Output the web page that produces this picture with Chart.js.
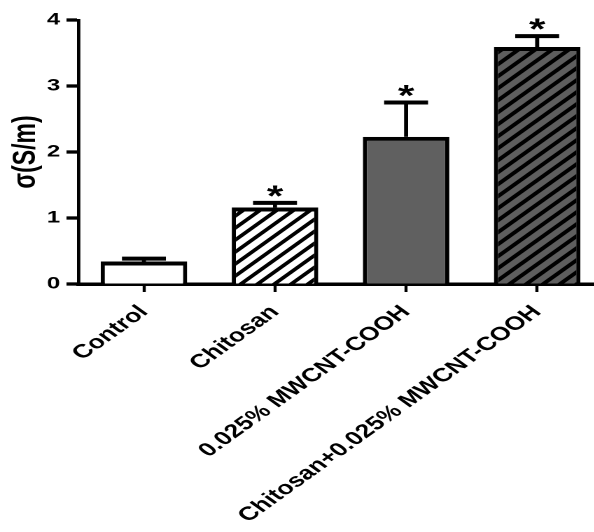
<!DOCTYPE html>
<html>
<head>
<meta charset="utf-8">
<script src="https://cdn.jsdelivr.net/npm/chart.js@4.4.1/dist/chart.umd.min.js"></script>
<style>
  html, body { margin: 0; padding: 0; background: #fff; overflow: hidden; width: 594px; height: 532px; }
  #wrap { position: absolute; left: 0; top: 0; width: 440px; height: 532px; transform: scaleX(1.4); transform-origin: 0 0; }
</style>
</head>
<body>
<div id="wrap"><canvas id="c" width="440" height="532"></canvas></div>
<script>
// ---- data ----
const categories = ['Control', 'Chitosan', '0.025% MWCNT-COOH', 'Chitosan+0.025% MWCNT-COOH'];
const means = [0.34, 1.16, 2.23, 3.59];
const sem = [0.045, 0.07, 0.52, 0.165];
const significant = [false, true, true, true];
const yTicks = [0, 1, 2, 3, 4];
const yTitle = 'σ(S/m)';

// ---- hatch patterns ----
function hatch(bg, fg, lw) {
  const T = 12, S = 2;
  const c = document.createElement('canvas');
  c.width = T * S; c.height = T * S;
  const g = c.getContext('2d');
  g.scale(S, S);
  g.fillStyle = bg; g.fillRect(0, 0, T, T);
  g.strokeStyle = fg; g.lineWidth = lw; g.lineCap = 'square';
  g.beginPath();
  for (const k of [0, T, 2 * T]) { g.moveTo(-T, k + T); g.lineTo(k + T, -T); }
  g.stroke();
  const p = g.createPattern(c, 'repeat');
  p.setTransform(new DOMMatrix().scale(1 / S));
  return p;
}
const fills = ['#ffffff', hatch('#ffffff', '#000000', 3.2), '#606060', hatch('#5e5e5e', '#000000', 3.4)];

const errPlugin = {
  id: 'errbars',
  afterDatasetsDraw(chart) {
    const ctx = chart.ctx, y = chart.scales.y;
    const meta = chart.getDatasetMeta(0);
    meta.data.forEach((bar, i) => {
      const top = y.getPixelForValue(means[i] + sem[i]);
      const base = y.getPixelForValue(means[i]);
      ctx.save();
      ctx.strokeStyle = '#000';
      ctx.lineWidth = 2.9;
      ctx.beginPath(); ctx.moveTo(bar.x, base); ctx.lineTo(bar.x, top); ctx.stroke();
      ctx.lineWidth = 4;
      ctx.beginPath(); ctx.moveTo(bar.x - 15.7, top); ctx.lineTo(bar.x + 15.7, top); ctx.stroke();
      if (significant[i]) {
        ctx.fillStyle = '#000';
        ctx.font = 'bold 30px "Liberation Sans", Arial, sans-serif';
        ctx.textAlign = 'center';
        ctx.textBaseline = 'alphabetic';
        ctx.fillText('*', bar.x, top + 3);
      }
      ctx.restore();
    });
  }
};

new Chart(document.getElementById('c'), {
  type: 'bar',
  data: {
    labels: categories,
    datasets: [{
      data: means,
      backgroundColor: fills,
      borderColor: '#000',
      borderWidth: { top: 4, left: 3, right: 3, bottom: 0 },
      borderSkipped: 'start',
      barPercentage: 0.66,
      categoryPercentage: 1.0
    }]
  },
  options: {
    responsive: false,
    devicePixelRatio: 2,
    animation: false,
    layout: { padding: { left: 0, top: 20, right: 9.5, bottom: 0 } },
    plugins: { legend: { display: false }, tooltip: { enabled: false } },
    scales: {
      x: {
        offset: true,
        grid: { display: true, drawOnChartArea: false, offset: false, tickLength: 8, tickWidth: 2.2, tickColor: '#000' },
        border: { display: true, color: '#000', width: 3.5 },
        ticks: {
          color: '#000', minRotation: 45, maxRotation: 45, padding: 9, autoSkip: false,
          font: { family: '"Liberation Sans", Arial, sans-serif', size: 19, weight: 'bold' }
        },
        afterFit(s) { s.height = 248; }
      },
      y: {
        min: 0, max: 4,
        afterBuildTicks(s) { s.ticks = yTicks.map(v => ({ value: v })); },
        grid: { display: true, drawOnChartArea: false, tickLength: 8.5, tickWidth: 3.3, tickColor: '#000' },
        border: { display: true, color: '#000', width: 2.4 },
        ticks: {
          color: '#000', padding: 4.5,
          font: { family: '"Liberation Sans", Arial, sans-serif', size: 17, weight: 'bold' }
        },
        title: {
          display: true, text: yTitle, color: '#000', padding: { top: 5, bottom: 0 },
          font: { family: '"Liberation Sans", Arial, sans-serif', size: 23, weight: 'bold' }
        },
        afterFit(s) { s.width = 56; }
      }
    }
  },
  plugins: [errPlugin]
});
</script>
</body>
</html>
